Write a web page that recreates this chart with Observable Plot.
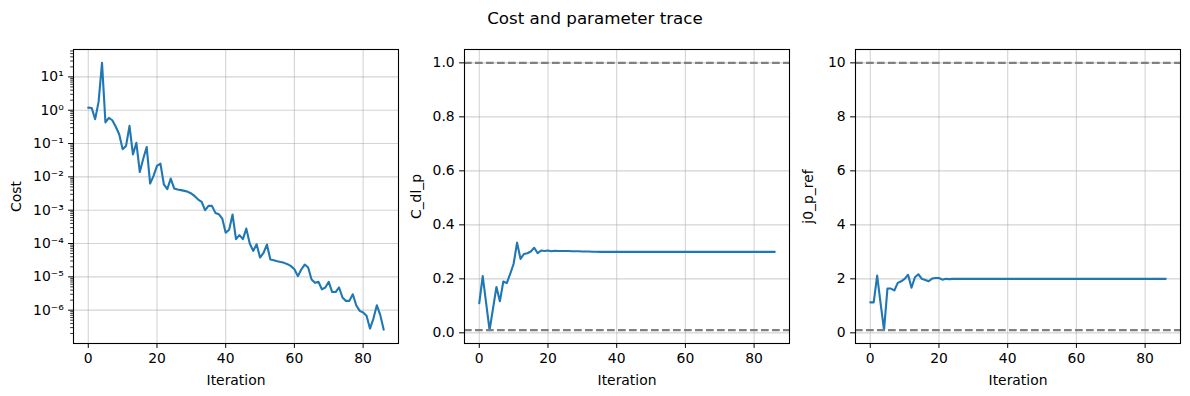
<!DOCTYPE html>
<html><head><meta charset="utf-8">
<script src="https://cdn.jsdelivr.net/npm/d3@7"></script>
<script src="https://cdn.jsdelivr.net/npm/@observablehq/plot@0.6"></script>
<style>
body{margin:0;background:#fff;}
#chart{position:relative;width:1190px;height:396px;font-family:"DejaVu Sans",sans-serif;background:#fff;}
#title{position:absolute;left:0;width:1190px;top:8px;text-align:center;font-size:16.7px;color:#000;}
.panel{position:absolute;top:0;}
</style></head><body>
<div id="chart"><div id="title">Cost and parameter trace</div></div>
<script>
const cost = [1.2, 1.17, 0.54, 1.78, 26.3, 0.43, 0.59, 0.5, 0.32, 0.19,
  0.068, 0.085, 0.34, 0.047, 0.105, 0.014, 0.035, 0.079, 0.0063, 0.0107,
  0.0214, 0.025, 0.006, 0.0043, 0.0089, 0.0045, 0.0042, 0.004, 0.0038, 0.00355,
  0.00316, 0.00263, 0.00209, 0.00178, 0.001, 0.00135, 0.00135, 0.00083, 0.00076, 0.00056,
  0.00021, 0.00026, 0.00074, 0.000135, 0.000178, 0.000135, 0.00028, 0.0001, 6.0e-5, 9.5e-5,
  3.8e-5, 5.2e-5, 9.3e-5, 3.3e-5, 3.16e-5, 2.95e-5, 2.8e-5, 2.63e-5, 2.4e-5, 2.1e-5,
  1.7e-5, 1.05e-5, 1.66e-5, 2.34e-5, 1.9e-5, 8.3e-6, 6.6e-6, 7.1e-6, 4.2e-6, 4.8e-6,
  7.1e-6, 3.5e-6, 3.5e-6, 4.8e-6, 2.4e-6, 1.9e-6, 1.9e-6, 3.0e-6, 1.4e-6, 9.5e-7,
  8.5e-7, 6.8e-7, 2.8e-7, 5.6e-7, 1.4e-6, 7.1e-7, 2.6e-7];
const cDlP = [0.11, 0.21, 0.11, 0.01, 0.09, 0.17, 0.117, 0.19, 0.184, 0.218,
  0.256, 0.334, 0.274, 0.292, 0.295, 0.301, 0.315, 0.295, 0.305, 0.303,
  0.305, 0.302, 0.304, 0.303, 0.303, 0.303, 0.303, 0.302, 0.302, 0.302,
  0.301, 0.301, 0.301, 0.3006, 0.3003, 0.3, 0.3, 0.3, 0.3, 0.3,
  0.3, 0.3, 0.3, 0.3, 0.3, 0.3, 0.3, 0.3, 0.3, 0.3,
  0.3, 0.3, 0.3, 0.3, 0.3, 0.3, 0.3, 0.3, 0.3, 0.3,
  0.3, 0.3, 0.3, 0.3, 0.3, 0.3, 0.3, 0.3, 0.3, 0.3,
  0.3, 0.3, 0.3, 0.3, 0.3, 0.3, 0.3, 0.3, 0.3, 0.3,
  0.3, 0.3, 0.3, 0.3, 0.3, 0.3, 0.3];
const j0PRef = [1.13, 1.13, 2.12, 1.1, 0.11, 1.64, 1.64, 1.57, 1.85, 1.91,
  2.0, 2.15, 1.67, 2.06, 2.17, 2.0, 1.96, 1.91, 2.01, 2.03,
  2.03, 1.97, 2.0, 1.99, 2.0, 2.0, 2.0, 2.0, 2.0, 2.0,
  2.0, 2.0, 2.0, 2.0, 2.0, 2.0, 2.0, 2.0, 2.0, 2.0,
  2.0, 2.0, 2.0, 2.0, 2.0, 2.0, 2.0, 2.0, 2.0, 2.0,
  2.0, 2.0, 2.0, 2.0, 2.0, 2.0, 2.0, 2.0, 2.0, 2.0,
  2.0, 2.0, 2.0, 2.0, 2.0, 2.0, 2.0, 2.0, 2.0, 2.0,
  2.0, 2.0, 2.0, 2.0, 2.0, 2.0, 2.0, 2.0, 2.0, 2.0,
  2.0, 2.0, 2.0, 2.0, 2.0, 2.0, 2.0];
const cDlBounds = [0.01, 1.0];
const j0Bounds = [0.1, 10];
const xTicks = [0, 20, 40, 60, 80];
const costTicks = [1e-6, 1e-5, 1e-4, 1e-3, 1e-2, 1e-1, 1e0, 1e1];
const cDlTicks = [0, 0.2, 0.4, 0.6, 0.8, 1.0];
const j0Ticks = [0, 2, 4, 6, 8, 10];
const yLabels = ["Cost", "C_dl_p", "j0_p_ref"];
const xLabel = "Iteration";

const SUP = {"0":"⁰","1":"¹","2":"²","3":"³","4":"⁴","5":"⁵","6":"⁶","7":"⁷","8":"⁸","9":"⁹","-":"⁻"};
const supFmt = v => "10" + String(Math.round(Math.log10(v))).split("").map(c => SUP[c]).join("");
const minorTicks = [];
for (let e = -7; e <= 1; e++) for (let m = 2; m <= 9; m++) {
  const v = m * Math.pow(10, e);
  if (v <= 66) minorTicks.push(v);
}

const gridStyle = {stroke: "#b0b0b0", strokeOpacity: 0.55, strokeWidth: 1.1};
const fs = 13.9;

function panel({left, width, ml, mr, values, y, yTicks, yFormat, label, labelOffset, bounds, minor}) {
  const rows = values.map((v, i) => ({iteration: i, value: v}));
  const marks = [
    Plot.gridX(xTicks, gridStyle),
    Plot.gridY(yTicks, gridStyle),
    Plot.line(rows, {x: "iteration", y: "value", stroke: "#1f77b4", strokeWidth: 2.1}),
  ];
  if (bounds) marks.push(Plot.ruleY(bounds, {stroke: "gray", strokeWidth: 2.1, strokeDasharray: "7.7,3.3"}));
  marks.push(
    Plot.frame({stroke: "black", strokeWidth: 1.1}),
    Plot.axisX({ticks: xTicks, tickSize: 4.9, tickPadding: 4.9, fontSize: fs, label: xLabel,
      labelAnchor: "center", labelArrow: "none", labelOffset: 41}),
    Plot.axisY({ticks: yTicks, tickSize: 4.9, tickPadding: 4.9, fontSize: fs, tickFormat: yFormat,
      label, labelAnchor: "center", labelArrow: "none", labelOffset})
  );
  if (minor) marks.push(Plot.axisY({ticks: minor, tickSize: 2.8, tickFormat: () => "", label: null, strokeWidth: 0.8}));
  const svg = Plot.plot({
    width, height: 396, marginLeft: ml, marginRight: mr, marginTop: 49, marginBottom: 53,
    x: {domain: [-4.3, 90.3]},
    y,
    style: {fontFamily: "DejaVu Sans", fontSize: fs + "px", color: "#000", background: "transparent", overflow: "visible"},
    marks
  });
  const wrap = document.createElement("div");
  wrap.className = "panel";
  wrap.style.left = left + "px";
  wrap.appendChild(svg);
  document.getElementById("chart").appendChild(wrap);
}

panel({left: 0, width: 400, ml: 73, mr: 2, values: cost,
  y: {type: "log", domain: [1e-7, 66.4]}, yTicks: costTicks, yFormat: supFmt,
  label: yLabels[0], labelOffset: 62, minor: minorTicks});
panel({left: 400, width: 392, ml: 64, mr: 3, values: cDlP,
  y: {domain: [-0.0395, 1.0495]}, yTicks: cDlTicks, yFormat: d3.format(".1f"),
  label: yLabels[1], labelOffset: 53, bounds: cDlBounds});
panel({left: 792, width: 398, ml: 63, mr: 10, values: j0PRef,
  y: {domain: [-0.395, 10.495]}, yTicks: j0Ticks, yFormat: d => String(d),
  label: yLabels[2], labelOffset: 52, bounds: j0Bounds});
</script>
</body></html>
